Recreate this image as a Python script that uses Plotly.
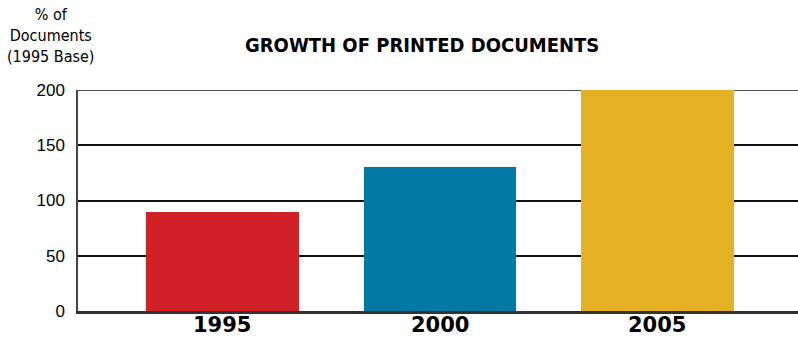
import plotly.graph_objects as go

years = ["1995", "2000", "2005"]
values = [90, 130, 200]
colors = ["#D12026", "#0078A4", "#E4B123"]
y_ticks = [0, 50, 100, 150, 200]

xpos = list(range(len(years)))

fig = go.Figure()
fig.add_trace(go.Bar(
    x=xpos, y=values, marker_color=colors, width=0.703,
    marker_line_width=0, showlegend=False,
))

fig.update_layout(
    width=798, height=339,
    margin=dict(l=78, r=0, t=90, b=28),
    plot_bgcolor="white", paper_bgcolor="white",
    xaxis=dict(
        range=[-0.664, 2.646], tickmode="array", tickvals=xpos,
        showticklabels=False,
        showline=True, linecolor="#333333", linewidth=2.5, showgrid=False,
        zeroline=False, ticks="", automargin=False,
    ),
    yaxis=dict(
        range=[0, 200], tickmode="array", tickvals=y_ticks,
        tickfont=dict(family="Liberation Sans", size=17, color="black"),
        showline=True, linecolor="#444444", linewidth=1.5,
        showgrid=True, gridcolor="#111111", gridwidth=1.5,
        zeroline=False, ticks="", ticklabelstandoff=8, automargin=False,
    ),
    bargap=0,
)

# top gridline at the maximum tick (plotly drops the gridline at the range edge)
fig.add_shape(type="line", xref="paper", yref="y", x0=0, x1=1,
              y0=y_ticks[-1], y1=y_ticks[-1],
              line=dict(color="#111111", width=1.5), layer="below")

# category labels below the axis
for xp, lab in zip(xpos, years):
    fig.add_annotation(
        text=lab, x=xp, xref="x", y=-(325 - 311) / 221, yref="paper",
        showarrow=False, xanchor="center", yanchor="middle",
        font=dict(family="DejaVu Sans", size=21, color="black", weight="bold"),
    )

fig.add_annotation(
    text="GROWTH OF PRINTED DOCUMENTS", xref="paper", yref="paper",
    x=(422 - 78) / 720, y=1 + (90 - 45) / 221, showarrow=False,
    font=dict(family="DejaVu Sans Condensed", size=20, color="black", weight="bold"),
    xanchor="center", yanchor="middle",
)
fig.add_annotation(
    text="% of<br>Documents<br>(1995 Base)", xref="paper", yref="paper",
    x=(50 - 78) / 720, y=1 + (90 - 36) / 221, showarrow=False,
    font=dict(family="DejaVu Sans Condensed", size=16, color="black"),
    xanchor="center", yanchor="middle", align="center",
)

fig.write_html("out.html")
